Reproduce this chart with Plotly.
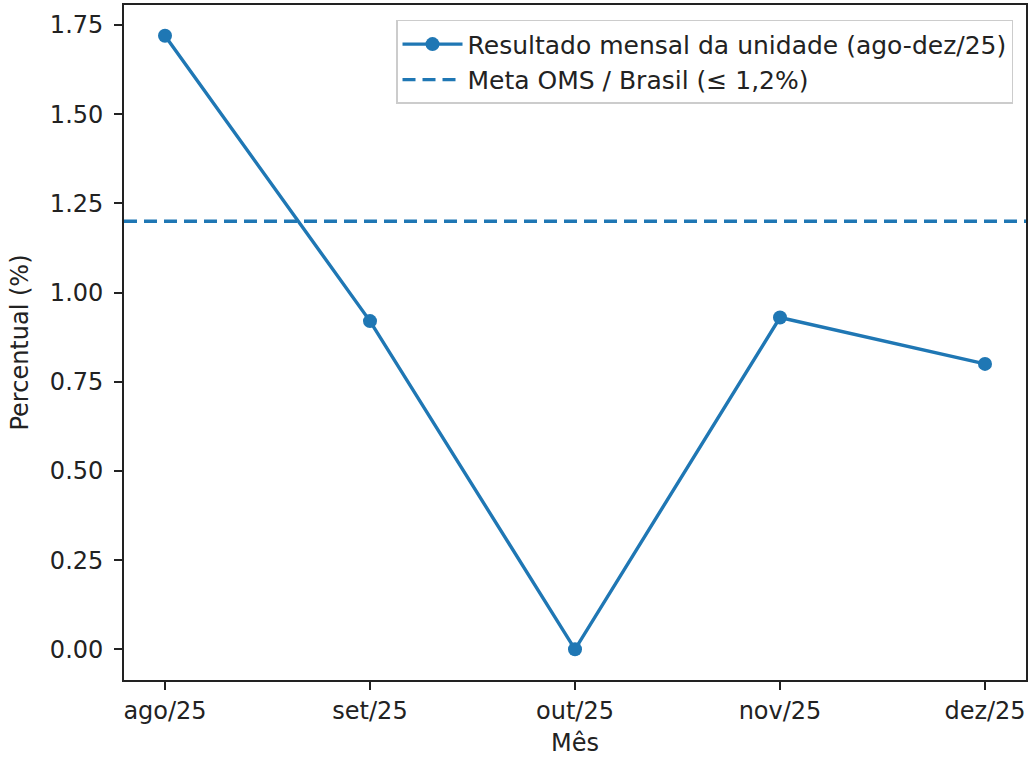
import plotly.graph_objects as go

meses = ["ago/25", "set/25", "out/25", "nov/25", "dez/25"]
valores = [1.72, 0.92, 0.00, 0.93, 0.80]
meta = 1.2
y_ticks = [0.00, 0.25, 0.50, 0.75, 1.00, 1.25, 1.50, 1.75]

cor = "#1f77b4"
fonte = "DejaVu Sans"

fig = go.Figure()
fig.add_trace(go.Scatter(
    x=list(range(len(meses))), y=valores, mode="lines+markers",
    name="Resultado mensal da unidade (ago-dez/25)",
    line=dict(color=cor, width=3.4),
    marker=dict(color=cor, size=14),
))
fig.add_shape(
    type="line", xref="x domain", yref="y", x0=0, x1=1, y0=meta, y1=meta,
    line=dict(color=cor, width=3.4, dash="13px,7px"),
    showlegend=True, name="Meta OMS / Brasil (≤ 1,2%)", layer="above",
)

ymin, ymax = min(valores), max(valores)
pad = (ymax - ymin) * 0.05
xpad = (len(meses) - 1) * 0.05

fig.update_layout(
    width=1031, height=757,
    margin=dict(l=124, r=3, t=5, b=77),
    paper_bgcolor="white", plot_bgcolor="white",
    font=dict(family=fonte, size=24, color="#222"),
    showlegend=True,
    legend=dict(
        x=0.9856, y=0.978, xanchor="right", yanchor="top",
        bgcolor="rgba(255,255,255,0.8)", bordercolor="#cccccc", borderwidth=1.5,
        font=dict(size=25), tracegroupgap=0, itemwidth=60,
    ),
    xaxis=dict(
        range=[-xpad, len(meses) - 1 + xpad],
        tickmode="array", tickvals=list(range(len(meses))), ticktext=meses,
        showgrid=False, zeroline=False,
        showline=True, linecolor="#222", linewidth=1.8, mirror=True,
        ticks="outside", ticklen=8, tickwidth=1.8, tickcolor="#222",
        title=dict(text="Mês", standoff=10, font=dict(size=24)),
    ),
    yaxis=dict(
        range=[ymin - pad, ymax + pad],
        tickmode="array", tickvals=y_ticks, tickformat=".2f",
        showgrid=False, zeroline=False,
        showline=True, linecolor="#222", linewidth=1.8, mirror=True,
        ticks="outside", ticklen=8, tickwidth=1.8, tickcolor="#222",
        ticklabelstandoff=6,
        title=dict(text="Percentual (%)", standoff=14, font=dict(size=24)),
    ),
)

fig.write_html("out.html", config={"displayModeBar": False},
               post_script="document.body.style.margin='0';")
